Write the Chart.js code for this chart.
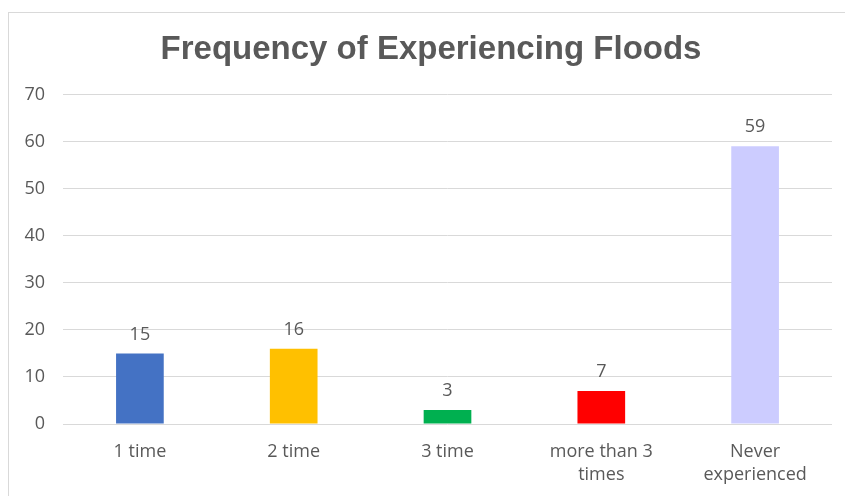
<html>
    <head>
        <script src="https://cdn.jsdelivr.net/npm/chart.js"></script>
        <style>
            body { margin: 0; background: #fff; }
            #wrap { width: 845px; height: 496px; }
        </style>
    </head>
    <body>
        <div id="wrap">
            <canvas id="floodsChart"></canvas>
        </div>

        <script>
            const TITLE = 'Frequency of Experiencing Floods'
            const CATEGORIES = ['1 time', '2 time', '3 time', ['more than 3', 'times'], ['Never', 'experienced']]
            const COUNTS = [15, 16, 3, 7, 59]
            const BAR_COLORS = ['#4472c4', '#ffc000', '#00b050', '#ff0000', '#ccccff']
            const Y_TICKS = { min: 0, max: 70, step: 10 }

            const TEXT = '#595959'
            const TITLE_FONT = 'bold 33px "Liberation Sans", Arial'

            // light frame round the chart, like the office export
            const framePlugin = {
                id: 'frame',
                beforeDraw(chart) {
                    const { ctx } = chart
                    ctx.save()
                    ctx.fillStyle = '#fff'
                    ctx.fillRect(0, 0, chart.width, chart.height)
                    ctx.strokeStyle = '#d9d9d9'
                    ctx.lineWidth = 1
                    ctx.strokeRect(8.5, 12.5, chart.width, chart.height)
                    ctx.restore()
                },
                // title is centred on the frame, not on the plot
                afterDraw(chart) {
                    const { ctx } = chart
                    const t = chart.titleBlock
                    ctx.save()
                    ctx.font = TITLE_FONT
                    ctx.fillStyle = TEXT
                    ctx.textAlign = 'center'
                    ctx.textBaseline = 'middle'
                    ctx.fillText(TITLE, 431, (t.top + t.bottom) / 2 - 3)
                    ctx.restore()
                },
            }

            const valueLabels = {
                id: 'valueLabels',
                afterDatasetsDraw(chart) {
                    const { ctx } = chart
                    const meta = chart.getDatasetMeta(0)
                    ctx.save()
                    ctx.font = '18px "Open Sans"'
                    ctx.fillStyle = TEXT
                    ctx.textAlign = 'center'
                    ctx.textBaseline = 'bottom'
                    meta.data.forEach((bar, i) => {
                        ctx.fillText(chart.data.datasets[0].data[i], bar.x, bar.y - 10)
                    })
                    ctx.restore()
                },
            }

            new Chart(document.getElementById('floodsChart'), {
                type: 'bar',
                data: {
                    labels: CATEGORIES,
                    datasets: [
                        {
                            label: 'Frequency',
                            data: COUNTS,
                            backgroundColor: BAR_COLORS,
                            barPercentage: 0.31,
                            categoryPercentage: 1,
                        },
                    ],
                },
                options: {
                    responsive: true,
                    maintainAspectRatio: false,
                    animation: false,
                    layout: { padding: { left: 8, right: 13, top: 12, bottom: 0 } },
                    plugins: {
                        legend: { display: false },
                        tooltip: { enabled: false },
                        title: {
                            display: true,
                            text: TITLE,
                            color: 'rgba(0,0,0,0)',
                            font: { family: '"Liberation Sans", Arial', size: 33, weight: 'bold' },
                            padding: { top: 16, bottom: 27 },
                        },
                    },
                    scales: {
                        y: {
                            min: Y_TICKS.min,
                            max: Y_TICKS.max,
                            ticks: {
                                stepSize: Y_TICKS.step,
                                color: TEXT,
                                padding: 18,
                                font: { family: '"Open Sans"', size: 18 },
                            },
                            grid: { color: '#d9d9d9', drawTicks: false },
                            border: { display: false },
                            afterFit(scale) {
                                scale.width = 55
                            },
                        },
                        x: {
                            ticks: {
                                color: TEXT,
                                padding: 9,
                                font: { family: '"Open Sans"', size: 18, lineHeight: 1.25 },
                                maxRotation: 0,
                            },
                            grid: { display: false },
                            border: { display: false },
                            afterFit(scale) {
                                scale.height = 72
                            },
                        },
                    },
                },
                plugins: [framePlugin, valueLabels],
            })
        </script>
    </body>
</html>
